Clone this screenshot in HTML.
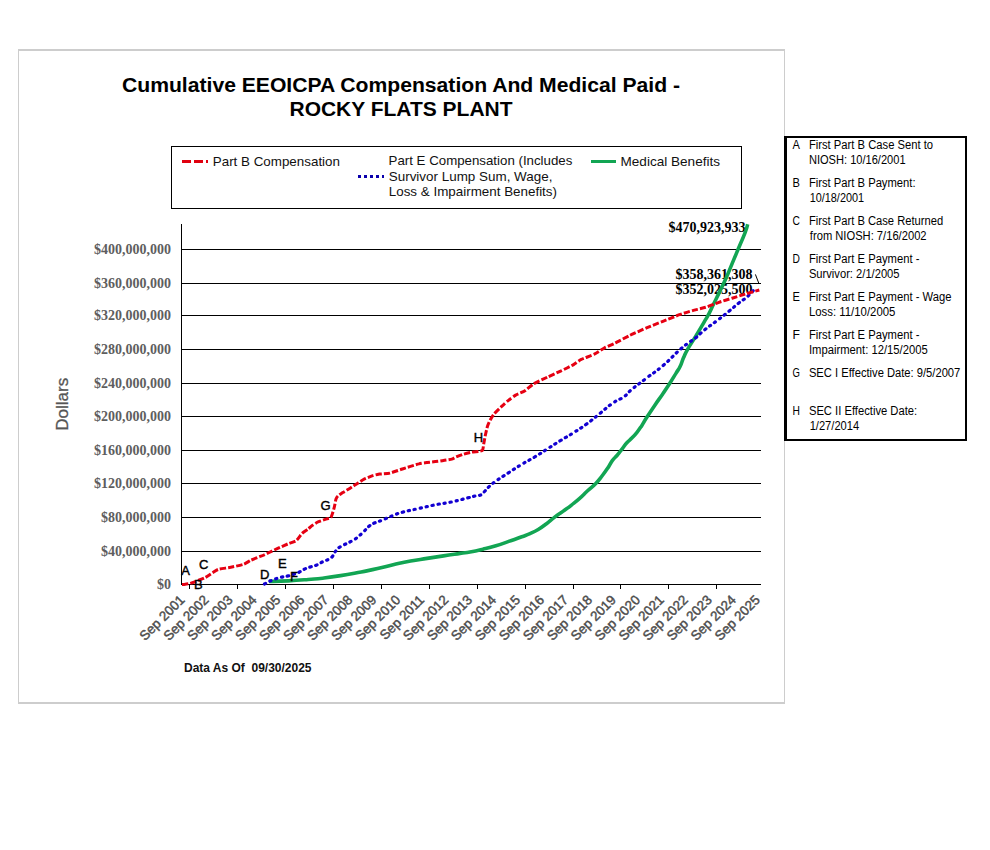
<!DOCTYPE html>
<html><head><meta charset="utf-8"><title>Cumulative EEOICPA Compensation And Medical Paid - ROCKY FLATS PLANT</title>
<style>
html,body{margin:0;padding:0;background:#fff;}
body{width:990px;height:850px;overflow:hidden;font-family:"Liberation Sans",sans-serif;}
svg{display:block;}
.sans{font-family:"Liberation Sans",sans-serif;}
.serif{font-family:"Liberation Serif",serif;}
</style></head><body>
<svg width="990" height="850" viewBox="0 0 990 850">
<rect x="0" y="0" width="990" height="850" fill="#ffffff"/>
<!-- outer frame -->
<g shape-rendering="crispEdges" fill="#cdcdcd">
<rect x="18" y="49" width="767" height="2"/>
<rect x="18" y="702" width="767" height="2"/>
<rect x="18" y="49" width="1" height="655"/>
<rect x="784" y="49" width="1" height="655"/>
</g>
<!-- title -->
<g class="sans" font-weight="bold" font-size="20px" fill="#000" text-anchor="middle">
<text x="401" y="92" textLength="558" lengthAdjust="spacingAndGlyphs">Cumulative EEOICPA Compensation And Medical Paid -</text>
<text x="401" y="115.500" textLength="223" lengthAdjust="spacingAndGlyphs">ROCKY FLATS PLANT</text>
</g>
<!-- legend -->
<rect x="171.500" y="146.500" width="570" height="62" fill="#fff" stroke="#000" stroke-width="1" shape-rendering="crispEdges"/>
<g shape-rendering="crispEdges" fill="#e0000f">
<rect x="182" y="160" width="9" height="3"/><rect x="194" y="160" width="9" height="3"/><rect x="206" y="160" width="2" height="3"/>
</g>
<g shape-rendering="crispEdges" fill="#0a00ac">
<rect x="358" y="175" width="3" height="3"/><rect x="364" y="175" width="3" height="3"/><rect x="370" y="175" width="3" height="3"/><rect x="376" y="175" width="3" height="3"/><rect x="382" y="175" width="2" height="3"/>
</g>
<rect x="591" y="160" width="25" height="3" fill="#12a553" shape-rendering="crispEdges"/>
<g class="sans" font-size="13px" fill="#111">

<text x="212.77" y="166" font-family="Liberation Sans" font-weight="normal" font-size="13px" textLength="127.22" lengthAdjust="spacingAndGlyphs" xml:space="preserve">Part B Compensation</text>
<text x="388.58" y="165" font-family="Liberation Sans" font-weight="normal" font-size="13px" textLength="183.76" lengthAdjust="spacingAndGlyphs" xml:space="preserve">Part E Compensation (Includes</text>
<text x="388.77" y="180.7" font-family="Liberation Sans" font-weight="normal" font-size="13px" textLength="163.65" lengthAdjust="spacingAndGlyphs" xml:space="preserve">Survivor Lump Sum, Wage,</text>
<text x="388.77" y="196" font-family="Liberation Sans" font-weight="normal" font-size="13px" textLength="168.24" lengthAdjust="spacingAndGlyphs" xml:space="preserve">Loss &amp; Impairment Benefits)</text>
<text x="620.56" y="166" font-family="Liberation Sans" font-weight="normal" font-size="13px" textLength="99.45" lengthAdjust="spacingAndGlyphs" xml:space="preserve">Medical Benefits</text>
</g>
<g shape-rendering="crispEdges" fill="#000">
<rect x="181" y="249" width="580" height="1"/>
<rect x="181" y="283" width="580" height="1"/>
<rect x="181" y="315" width="580" height="1"/>
<rect x="181" y="349" width="580" height="1"/>
<rect x="181" y="383" width="580" height="1"/>
<rect x="181" y="416" width="580" height="1"/>
<rect x="181" y="450" width="580" height="1"/>
<rect x="181" y="483" width="580" height="1"/>
<rect x="181" y="517" width="580" height="1"/>
<rect x="181" y="551" width="580" height="1"/>
<rect x="181" y="224" width="1" height="361"/>
<rect x="181" y="584" width="580" height="1"/>
<rect x="189" y="585" width="1" height="4"/>
<rect x="237" y="585" width="1" height="4"/>
<rect x="285" y="585" width="1" height="4"/>
<rect x="333" y="585" width="1" height="4"/>
<rect x="381" y="585" width="1" height="4"/>
<rect x="429" y="585" width="1" height="4"/>
<rect x="477" y="585" width="1" height="4"/>
<rect x="525" y="585" width="1" height="4"/>
<rect x="573" y="585" width="1" height="4"/>
<rect x="620" y="585" width="1" height="4"/>
<rect x="668" y="585" width="1" height="4"/>
<rect x="716" y="585" width="1" height="4"/>
</g>
<g class="serif" font-weight="bold" font-size="14px" fill="#5e5e5e" text-anchor="end">
<text x="171" y="254">$400,000,000</text>
<text x="171" y="288">$360,000,000</text>
<text x="171" y="320">$320,000,000</text>
<text x="171" y="354">$280,000,000</text>
<text x="171" y="388">$240,000,000</text>
<text x="171" y="421">$200,000,000</text>
<text x="171" y="455">$160,000,000</text>
<text x="171" y="488">$120,000,000</text>
<text x="171" y="522">$80,000,000</text>
<text x="171" y="556">$40,000,000</text>
<text x="171" y="589">$0</text>
</g>
<text class="sans" font-size="17px" fill="#555" stroke="#555" stroke-width="0.3" text-anchor="middle" transform="translate(68,404.3) rotate(-90)">Dollars</text>
<g class="sans" font-size="13.4px" fill="#4e4e4e" stroke="#4e4e4e" stroke-width="0.45" text-anchor="end">
<text transform="translate(185.50,600.7) rotate(-45)">Sep 2001</text>
<text transform="translate(209.45,600.7) rotate(-45)">Sep 2002</text>
<text transform="translate(233.40,600.7) rotate(-45)">Sep 2003</text>
<text transform="translate(257.42,600.7) rotate(-45)">Sep 2004</text>
<text transform="translate(281.37,600.7) rotate(-45)">Sep 2005</text>
<text transform="translate(305.32,600.7) rotate(-45)">Sep 2006</text>
<text transform="translate(329.27,600.7) rotate(-45)">Sep 2007</text>
<text transform="translate(353.29,600.7) rotate(-45)">Sep 2008</text>
<text transform="translate(377.24,600.7) rotate(-45)">Sep 2009</text>
<text transform="translate(401.19,600.7) rotate(-45)">Sep 2010</text>
<text transform="translate(425.14,600.7) rotate(-45)">Sep 2011</text>
<text transform="translate(449.16,600.7) rotate(-45)">Sep 2012</text>
<text transform="translate(473.11,600.7) rotate(-45)">Sep 2013</text>
<text transform="translate(497.06,600.7) rotate(-45)">Sep 2014</text>
<text transform="translate(521.02,600.7) rotate(-45)">Sep 2015</text>
<text transform="translate(545.03,600.7) rotate(-45)">Sep 2016</text>
<text transform="translate(568.98,600.7) rotate(-45)">Sep 2017</text>
<text transform="translate(592.93,600.7) rotate(-45)">Sep 2018</text>
<text transform="translate(616.89,600.7) rotate(-45)">Sep 2019</text>
<text transform="translate(640.90,600.7) rotate(-45)">Sep 2020</text>
<text transform="translate(664.85,600.7) rotate(-45)">Sep 2021</text>
<text transform="translate(688.81,600.7) rotate(-45)">Sep 2022</text>
<text transform="translate(712.76,600.7) rotate(-45)">Sep 2023</text>
<text transform="translate(736.77,600.7) rotate(-45)">Sep 2024</text>
<text transform="translate(760.72,600.7) rotate(-45)">Sep 2025</text>
</g>
<g class="serif" font-weight="bold" font-size="14px" fill="#000">
<text x="668.500" y="232">$470,923,933</text>
<text x="675.500" y="278.700">$358,361,308</text>
<text x="675.500" y="293.700">$352,025,500</text>
</g>
<line x1="755.4" y1="274.400" x2="758.900" y2="283.500" stroke="#000" stroke-width="1"/>
<clipPath id="cp"><rect x="181" y="223" width="582" height="364"/></clipPath>
<g clip-path="url(#cp)" fill="none" stroke-linejoin="round">
<path d="M269.1,581.4C273.9,581.3 278.4,581.4 288.2,580.9C298.0,580.4 299.6,580.2 308.2,579.5C316.8,578.8 314.6,579.2 322.7,578.2C330.8,577.2 331.0,577.2 340.6,575.6C350.2,574.0 351.9,573.6 361.2,571.9C370.4,570.1 369.4,570.5 377.6,568.6C385.8,566.8 385.9,566.4 394.1,564.5C402.4,562.6 402.4,562.5 410.6,561.0C418.9,559.5 418.9,559.7 427.1,558.4C435.3,557.1 435.3,557.1 443.5,555.9C451.7,554.6 453.4,554.4 460.0,553.4C466.6,552.4 464.3,553.0 470.0,552.0C475.7,551.0 476.4,550.8 482.9,549.2C489.4,547.7 489.4,547.8 495.9,545.8C502.4,543.8 502.3,543.6 508.8,541.4C515.3,539.1 516.5,538.8 521.8,536.8C527.1,534.8 525.9,535.4 530.0,533.6C534.1,531.8 534.1,532.0 538.2,529.5C542.3,527.0 542.4,526.8 546.5,523.7C550.6,520.6 550.6,520.2 554.7,517.1C558.8,514.0 558.8,514.4 562.9,511.4C567.0,508.4 567.1,508.5 571.2,505.3C575.3,502.1 575.3,502.3 579.4,498.7C583.5,495.1 583.5,494.6 587.6,490.8C591.7,487.0 592.5,486.7 595.8,483.4C599.1,480.1 597.9,481.3 600.8,477.6C603.7,473.9 604.5,472.9 607.4,468.6C610.3,464.4 609.8,464.0 612.3,460.6C614.8,457.2 614.7,458.1 617.2,455.2C619.7,452.2 619.7,452.0 622.2,448.8C624.7,445.6 624.6,445.2 627.1,442.5C629.6,439.8 629.6,440.4 632.1,437.8C634.6,435.2 634.5,435.4 637.0,432.3C639.5,429.2 639.5,429.0 641.9,425.4C644.3,421.8 643.3,422.8 646.5,417.8C649.7,412.8 650.6,411.4 654.7,405.4C658.8,399.4 659.2,399.1 662.9,393.7C666.6,388.3 666.2,388.9 669.5,383.8C672.8,378.7 673.4,377.5 676.1,373.1C678.8,368.7 678.4,370.1 680.2,366.3C682.1,362.5 681.6,362.1 683.5,357.8C685.4,353.6 684.5,354.7 687.6,349.3C690.7,343.9 691.7,342.9 695.8,336.1C699.9,329.3 700.8,327.7 704.1,322.1C707.4,316.5 706.6,318.1 709.0,313.6C711.4,309.1 710.9,309.5 713.6,304.0C716.3,298.5 716.6,298.0 719.7,291.6C722.8,285.2 723.1,284.8 726.0,278.3C728.9,271.8 728.6,272.0 731.3,265.6C733.9,259.2 733.2,261.1 736.6,252.9C740.0,244.7 742.2,240.0 745.0,232.8C747.8,225.7 747.0,226.4 747.7,224.3" stroke="#12a553" stroke-width="3.6"/>
<path d="M264.5,584.0C265.4,583.5 265.8,583.1 268.0,582.0C270.2,580.9 269.3,581.3 272.7,580.0C276.1,578.7 276.8,578.4 280.9,577.3C285.0,576.2 285.0,576.6 288.2,575.9C291.4,575.2 290.3,575.4 293.0,574.5C295.7,573.6 295.1,574.1 298.2,572.7C301.3,571.3 301.1,570.7 304.5,569.1C307.9,567.5 307.6,567.9 310.9,566.8C314.2,565.7 313.7,566.3 316.8,565.0C319.9,563.7 319.4,563.4 322.7,561.8C326.0,560.2 326.6,560.4 329.1,559.1C331.6,557.8 330.7,558.5 332.0,557.0C333.3,555.5 332.8,555.5 334.1,553.5C335.4,551.5 335.3,551.3 337.0,549.5C338.7,547.7 336.4,549.0 340.6,546.6C344.8,544.2 348.3,543.0 352.9,540.4C357.5,537.8 355.3,539.0 358.0,536.8C360.7,534.6 360.2,535.1 363.2,532.2C366.2,529.3 366.3,528.5 369.4,526.0C372.5,523.5 371.7,524.3 375.0,522.8C378.3,521.3 376.7,522.4 381.8,520.3C386.9,518.2 388.6,517.3 394.1,515.1C399.6,512.9 395.8,514.0 402.4,512.2C409.0,510.4 410.0,510.5 418.8,508.5C427.6,506.5 426.5,506.6 435.3,504.8C444.1,503.0 443.0,503.8 451.8,501.9C460.6,500.0 462.0,499.4 468.2,497.8C474.4,496.2 471.4,496.9 475.0,496.0C478.6,495.1 479.0,495.9 481.7,494.6C484.4,493.3 482.9,493.2 485.0,491.0C487.1,488.8 486.5,488.9 489.4,486.3C492.3,483.7 490.7,484.8 495.9,481.1C501.1,477.4 501.9,477.1 508.8,472.6C515.7,468.1 514.9,468.5 521.8,464.3C528.7,460.1 527.8,461.2 534.7,457.0C541.6,452.8 540.8,453.1 547.7,448.7C554.6,444.3 553.7,444.8 560.6,440.5C567.5,436.2 566.7,437.1 573.6,432.7C580.5,428.3 579.6,429.1 586.5,424.1C593.4,419.1 592.6,419.3 599.5,413.8C606.4,408.3 605.8,408.0 612.4,403.4C619.0,398.8 619.0,400.3 624.1,396.6C629.2,392.9 625.6,394.5 631.6,389.6C637.6,384.7 638.2,384.5 646.5,378.1C654.8,371.7 654.1,373.2 662.9,365.7C671.7,358.2 672.8,356.0 679.4,350.1C686.0,344.2 683.2,346.8 687.6,343.5C692.0,340.2 691.4,341.2 695.8,337.7C700.2,334.2 698.4,334.9 704.1,330.3C709.8,325.7 710.6,325.5 717.2,320.5C723.8,315.5 723.1,316.0 728.8,311.4C734.5,306.8 733.7,307.1 738.6,303.2C743.5,299.3 742.8,300.6 747.1,296.8C751.4,293.0 752.6,291.2 754.6,289.1" stroke="#1200d2" stroke-width="3.2" stroke-dasharray="1.3 4.8" stroke-linecap="round"/>
<path d="M182.0,584.6C182.2,584.6 183.4,584.5 184.2,584.4C185.0,584.3 188.9,583.8 190.3,583.4C191.7,583.0 196.9,581.0 198.4,580.4C199.9,579.8 204.1,578.2 205.5,577.4C206.9,576.6 211.2,573.6 212.5,572.8C213.8,572.0 216.8,569.8 218.6,569.3C220.4,568.8 228.2,567.8 230.7,567.3C233.2,566.8 241.8,564.9 243.8,564.2C245.8,563.5 249.3,561.0 250.9,560.2C252.5,559.5 258.2,557.2 259.5,556.7C260.8,556.2 262.8,555.6 264.0,555.0C265.2,554.4 270.4,551.9 272.0,551.1C273.6,550.3 278.4,548.0 280.0,547.3C281.6,546.6 286.5,544.5 288.1,543.8C289.7,543.1 294.8,541.6 296.2,540.6C297.6,539.6 300.8,534.7 302.0,533.5C303.2,532.3 307.0,529.9 308.1,529.0C309.2,528.1 311.8,525.7 312.9,525.0C313.9,524.3 317.2,522.3 318.6,521.7C320.0,521.1 325.5,519.3 326.7,518.9C327.9,518.5 330.1,518.2 330.7,517.7C331.3,517.2 331.9,515.0 332.3,514.0C332.7,513.0 333.9,508.7 334.3,507.2C334.7,505.7 335.6,500.2 336.0,499.1C336.4,498.0 337.3,496.5 338.0,495.9C338.7,495.2 341.6,493.4 342.8,492.6C344.0,491.8 348.6,489.2 350.1,488.2C351.6,487.2 356.8,483.8 358.2,482.9C359.6,482.0 363.2,479.6 364.6,478.9C366.1,478.2 371.2,476.2 372.7,475.7C374.2,475.2 378.7,474.2 379.6,474.0C380.5,473.8 381.0,474.1 382.0,474.0C383.0,473.9 388.0,473.6 390.0,473.1C392.0,472.6 399.5,469.9 402.4,469.0C405.3,468.1 416.3,464.5 418.8,463.9C421.3,463.2 425.4,462.7 427.0,462.5C428.6,462.3 433.7,461.8 435.3,461.6C436.9,461.4 441.9,460.8 443.5,460.5C445.1,460.2 450.7,459.4 451.8,459.1C452.9,458.8 453.9,458.0 455.0,457.5C456.1,457.0 461.6,454.8 463.2,454.3C464.8,453.8 469.9,452.5 471.5,452.2C473.1,451.9 477.8,451.6 478.9,451.4C480.0,451.2 482.1,450.9 482.6,450.1C483.1,449.3 483.5,445.1 483.8,443.5C484.1,441.9 485.1,436.2 485.5,434.5C485.9,432.8 487.0,427.7 487.5,426.2C488.0,424.7 489.7,421.0 490.4,419.7C491.1,418.4 493.4,414.8 494.5,413.5C495.6,412.2 499.7,408.2 501.1,406.9C502.5,405.6 507.0,401.5 508.5,400.3C510.0,399.1 514.4,395.8 516.0,394.9C517.6,393.9 523.3,391.9 525.0,390.8C526.7,389.7 531.1,385.4 533.4,384.0C535.7,382.6 545.0,378.3 547.7,377.0C550.4,375.7 558.0,372.3 560.6,371.1C563.2,369.9 571.5,365.8 573.6,364.6C575.7,363.4 579.2,360.4 581.3,359.4C583.4,358.4 592.0,355.4 594.3,354.2C596.6,353.0 602.5,348.9 604.6,347.8C606.7,346.7 612.5,344.4 615.0,343.1C617.5,341.9 626.9,336.8 630.0,335.3C633.1,333.8 643.2,329.3 646.5,327.9C649.8,326.5 659.6,322.6 662.9,321.3C666.2,320.0 676.4,315.8 679.4,314.7C682.4,313.6 690.0,311.3 692.6,310.6C695.2,309.9 703.1,308.1 705.7,307.3C708.3,306.5 716.3,303.2 718.9,302.3C721.5,301.4 729.5,299.0 732.1,298.2C734.7,297.4 742.5,294.9 745.2,294.1C747.9,293.3 757.9,290.4 759.3,290.0" stroke="#e60012" stroke-width="3" stroke-dasharray="6.2 2.1"/>
</g>
<g class="sans" font-size="13px" fill="#000" stroke="#000" stroke-width="0.4">
<text x="181.3" y="575">A</text>
<text x="194" y="588.7">B</text>
<text x="199" y="568.7">C</text>
<text x="260" y="578.8">D</text>
<text x="278" y="567.8">E</text>
<text x="290" y="580.5">F</text>
<text x="320.5" y="510">G</text>
<text x="473.8" y="441.7">H</text>
</g>
<text class="sans" font-weight="bold" font-size="12px" fill="#111" x="184" y="671.700" textLength="127.500" lengthAdjust="spacingAndGlyphs" xml:space="preserve">Data As Of  09/30/2025</text>
<g shape-rendering="crispEdges" fill="#000">
<rect x="784" y="136" width="183" height="2"/>
<rect x="784" y="439" width="183" height="2"/>
<rect x="784" y="136" width="3" height="305"/>
<rect x="965" y="136" width="2" height="305"/>
</g>
<g fill="#000">
<text class="sans" font-size="12px" x="792.6" y="149" textLength="7.4" lengthAdjust="spacingAndGlyphs">A</text>
<text x="808.91" y="149" font-family="Liberation Sans" font-weight="normal" font-size="12px" textLength="124.16" lengthAdjust="spacingAndGlyphs" xml:space="preserve">First Part B Case Sent to</text>
<text x="808.93" y="164" font-family="Liberation Sans" font-weight="normal" font-size="12px" textLength="96.65" lengthAdjust="spacingAndGlyphs" xml:space="preserve">NIOSH: 10/16/2001</text>
<text class="sans" font-size="12px" x="792.6" y="187" textLength="7.4" lengthAdjust="spacingAndGlyphs">B</text>
<text x="808.91" y="187" font-family="Liberation Sans" font-weight="normal" font-size="12px" textLength="106.65" lengthAdjust="spacingAndGlyphs" xml:space="preserve">First Part B Payment:</text>
<text x="809.69" y="202" font-family="Liberation Sans" font-weight="normal" font-size="12px" textLength="54.36" lengthAdjust="spacingAndGlyphs" xml:space="preserve">10/18/2001</text>
<text class="sans" font-size="12px" x="792.6" y="225" textLength="7.4" lengthAdjust="spacingAndGlyphs">C</text>
<text x="808.92" y="225" font-family="Liberation Sans" font-weight="normal" font-size="12px" textLength="134.34" lengthAdjust="spacingAndGlyphs" xml:space="preserve">First Part B Case Returned</text>
<text x="809.85" y="240" font-family="Liberation Sans" font-weight="normal" font-size="12px" textLength="116.71" lengthAdjust="spacingAndGlyphs" xml:space="preserve">from NIOSH: 7/16/2002</text>
<text class="sans" font-size="12px" x="792.6" y="263" textLength="7.4" lengthAdjust="spacingAndGlyphs">D</text>
<text x="808.91" y="263" font-family="Liberation Sans" font-weight="normal" font-size="12px" textLength="110.52" lengthAdjust="spacingAndGlyphs" xml:space="preserve">First Part E Payment -</text>
<text x="808.92" y="278" font-family="Liberation Sans" font-weight="normal" font-size="12px" textLength="90.64" lengthAdjust="spacingAndGlyphs" xml:space="preserve">Survivor: 2/1/2005</text>
<text class="sans" font-size="12px" x="792.6" y="301" textLength="7.4" lengthAdjust="spacingAndGlyphs">E</text>
<text x="808.91" y="301" font-family="Liberation Sans" font-weight="normal" font-size="12px" textLength="142.64" lengthAdjust="spacingAndGlyphs" xml:space="preserve">First Part E Payment - Wage</text>
<text x="808.90" y="316" font-family="Liberation Sans" font-weight="normal" font-size="12px" textLength="86.48" lengthAdjust="spacingAndGlyphs" xml:space="preserve">Loss: 11/10/2005</text>
<text class="sans" font-size="12px" x="792.6" y="339" textLength="7.4" lengthAdjust="spacingAndGlyphs">F</text>
<text x="808.91" y="339" font-family="Liberation Sans" font-weight="normal" font-size="12px" textLength="110.52" lengthAdjust="spacingAndGlyphs" xml:space="preserve">First Part E Payment -</text>
<text x="808.91" y="354" font-family="Liberation Sans" font-weight="normal" font-size="12px" textLength="118.79" lengthAdjust="spacingAndGlyphs" xml:space="preserve">Impairment: 12/15/2005</text>
<text class="sans" font-size="12px" x="792.6" y="377" textLength="7.4" lengthAdjust="spacingAndGlyphs">G</text>
<text x="808.92" y="377" font-family="Liberation Sans" font-weight="normal" font-size="12px" textLength="151.39" lengthAdjust="spacingAndGlyphs" xml:space="preserve">SEC I Effective Date: 9/5/2007</text>
<text class="sans" font-size="12px" x="792.6" y="415" textLength="7.4" lengthAdjust="spacingAndGlyphs">H</text>
<text x="808.92" y="415" font-family="Liberation Sans" font-weight="normal" font-size="12px" textLength="108.26" lengthAdjust="spacingAndGlyphs" xml:space="preserve">SEC II Effective Date:</text>
<text x="809.67" y="430" font-family="Liberation Sans" font-weight="normal" font-size="12px" textLength="49.49" lengthAdjust="spacingAndGlyphs" xml:space="preserve">1/27/2014</text>
</g>
</svg></body></html>
